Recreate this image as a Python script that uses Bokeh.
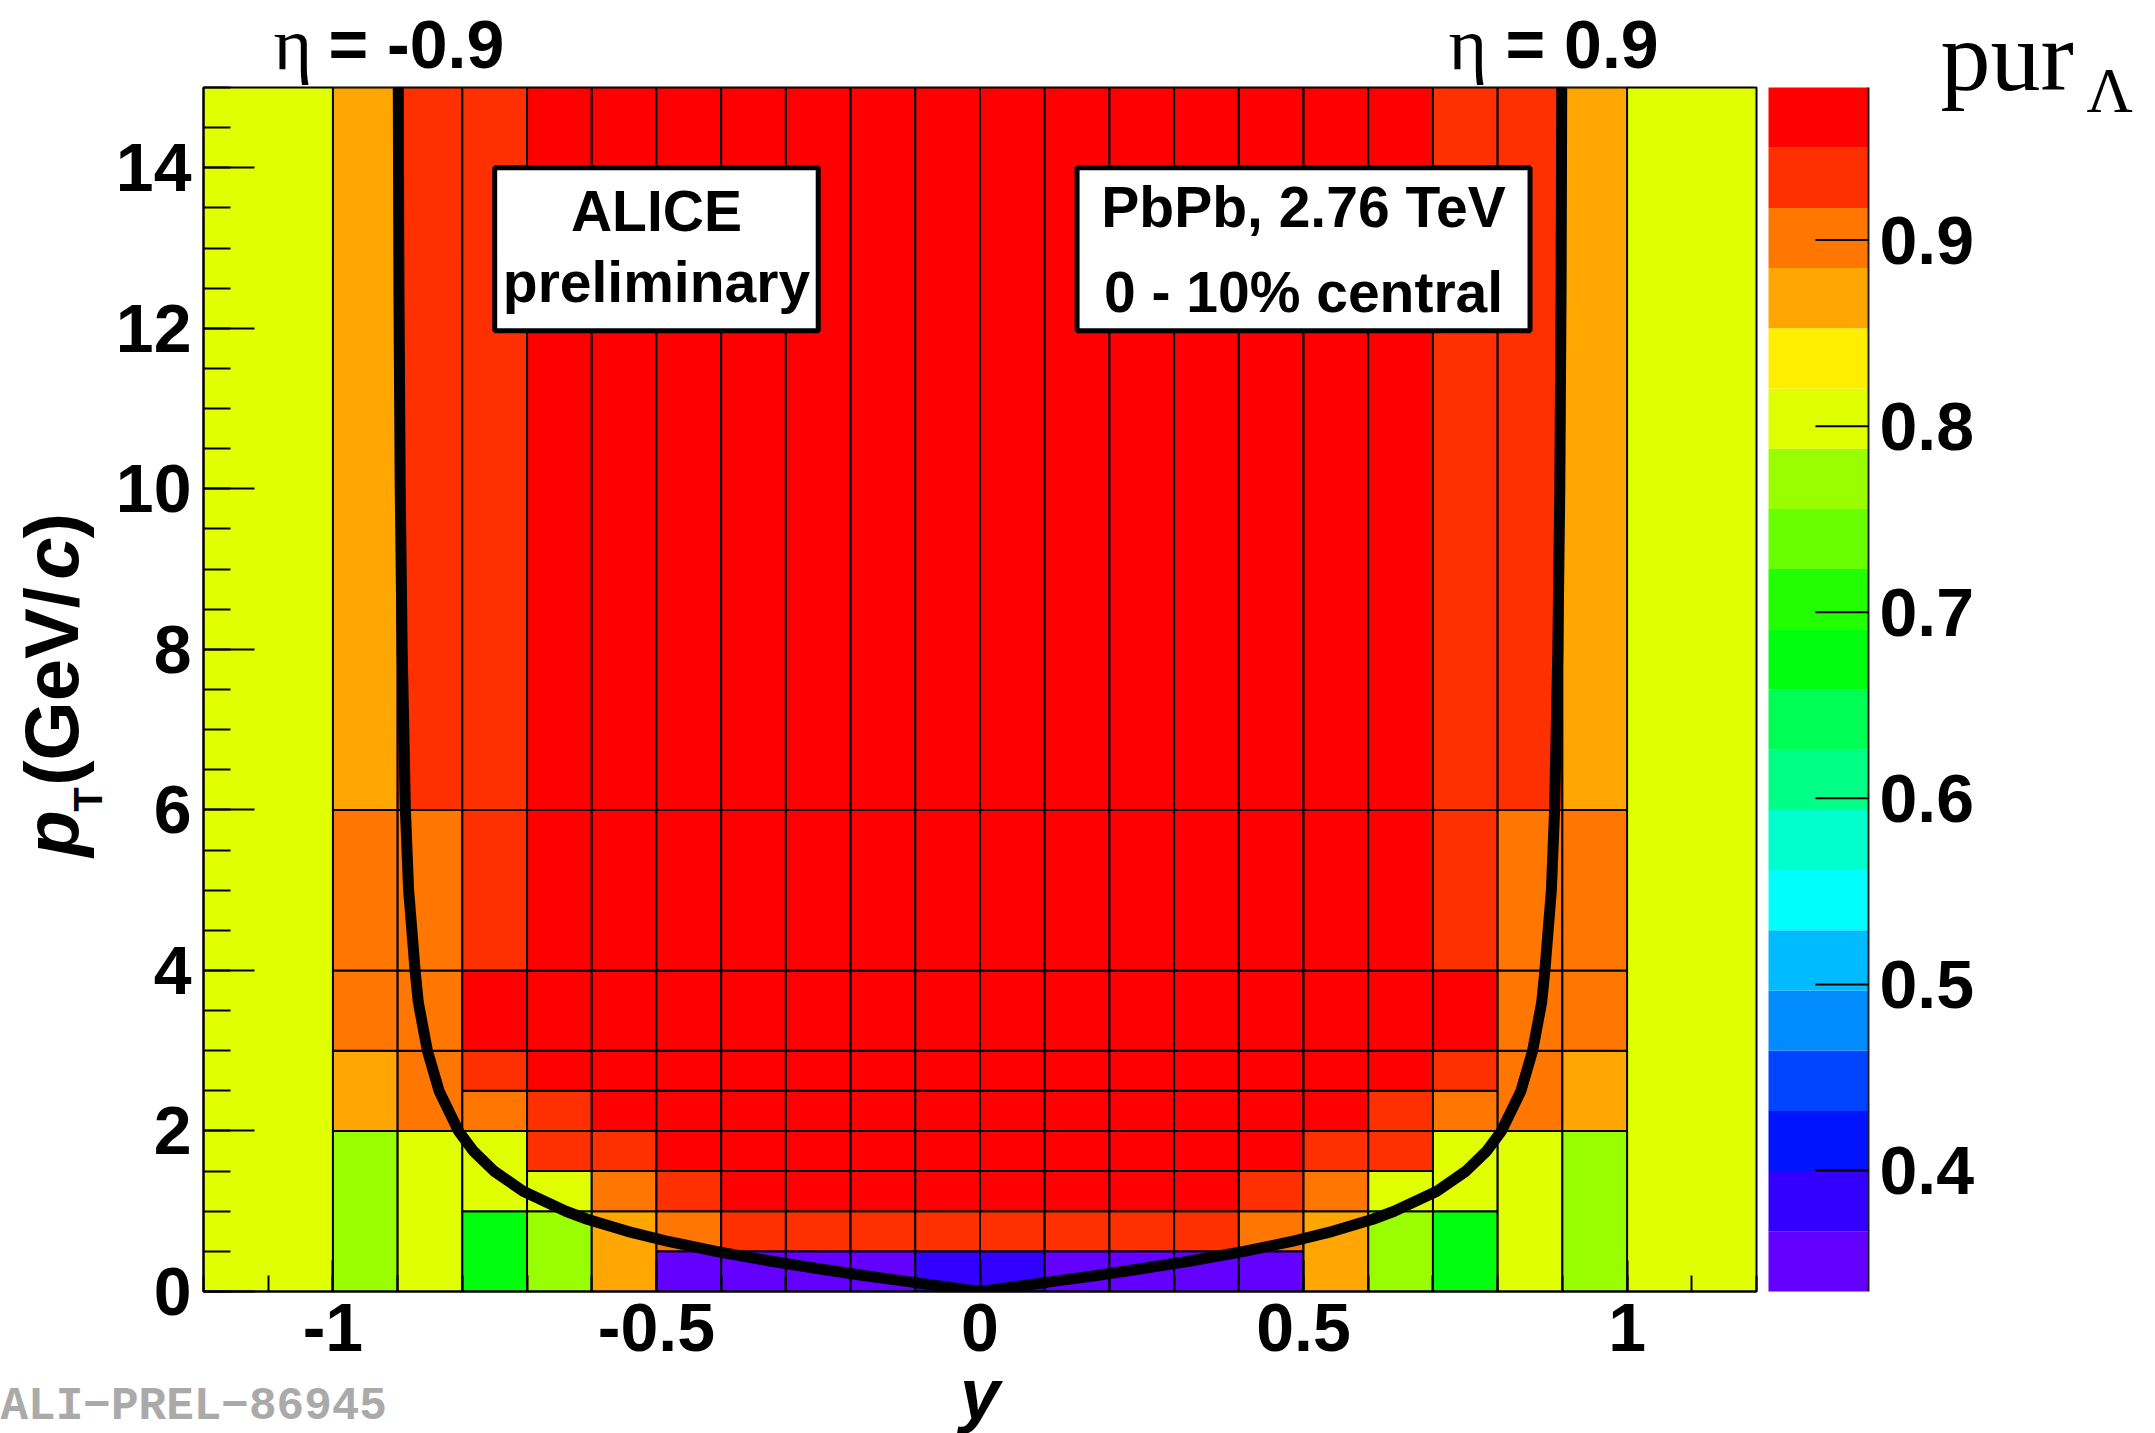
import numpy as np
from bokeh.plotting import figure
from bokeh.layouts import row, column
from bokeh.models import (ColumnDataSource, Range1d, FixedTicker, LinearColorMapper,
                          Label, BoxAnnotation)
from bokeh.embed import file_html
from bokeh.resources import INLINE

# ---------------- data ----------------
# rapidity bin edges of the histogram (|y| < 1)
Y_EDGES = [-1.0, -0.9, -0.8, -0.7, -0.6, -0.5, -0.4, -0.3, -0.2, -0.1, 0.0,
           0.1, 0.2, 0.3, 0.4, 0.5, 0.6, 0.7, 0.8, 0.9, 1.0]

# pT bin edges used in the different rapidity columns
PT_OUTER = [0, 2, 3, 4, 6, 15]                      # 0.8 < |y| < 1.0
PT_EDGE = [0, 1, 2, 2.5, 3, 4, 6, 15]               # 0.7 < |y| < 0.8
PT_MID = [0, 1, 1.5, 2, 2.5, 3, 4, 6, 15]           # 0.5 < |y| < 0.7
PT_CORE = [0, 0.5, 1, 1.5, 2, 2.5, 3, 4, 6, 15]     # |y| < 0.5

COLUMN_PT_EDGES = [PT_OUTER, PT_OUTER, PT_EDGE, PT_MID, PT_MID,
                   PT_CORE, PT_CORE, PT_CORE, PT_CORE, PT_CORE,
                   PT_CORE, PT_CORE, PT_CORE, PT_CORE, PT_CORE,
                   PT_MID, PT_MID, PT_EDGE, PT_OUTER, PT_OUTER]

# purity per column, from low pT to high pT
PURITY = [
    [0.77, 0.87, 0.90, 0.90, 0.87],                          # -1.0 .. -0.9
    [0.80, 0.90, 0.90, 0.90, 0.93],                          # -0.9 .. -0.8
    [0.67, 0.80, 0.90, 0.93, 0.97, 0.93, 0.93],              # -0.8 .. -0.7
    [0.77, 0.80, 0.93, 0.93, 0.97, 0.97, 0.97, 0.97],        # -0.7 .. -0.6
    [0.87, 0.90, 0.93, 0.97, 0.97, 0.97, 0.97, 0.97],        # -0.6 .. -0.5
    [0.35, 0.90, 0.93, 0.97, 0.97, 0.97, 0.97, 0.97, 0.97],  # -0.5 .. -0.4
    [0.35, 0.93, 0.97, 0.97, 0.97, 0.97, 0.97, 0.97, 0.97],  # -0.4 .. -0.3
    [0.35, 0.93, 0.97, 0.97, 0.97, 0.97, 0.97, 0.97, 0.97],  # -0.3 .. -0.2
    [0.35, 0.93, 0.97, 0.97, 0.97, 0.97, 0.97, 0.97, 0.97],  # -0.2 .. -0.1
    [0.38, 0.93, 0.97, 0.97, 0.97, 0.97, 0.97, 0.97, 0.97],  # -0.1 .. 0.0
    [0.38, 0.93, 0.97, 0.97, 0.97, 0.97, 0.97, 0.97, 0.97],  #  0.0 .. 0.1
    [0.35, 0.93, 0.97, 0.97, 0.97, 0.97, 0.97, 0.97, 0.97],  #  0.1 .. 0.2
    [0.35, 0.93, 0.97, 0.97, 0.97, 0.97, 0.97, 0.97, 0.97],  #  0.2 .. 0.3
    [0.35, 0.93, 0.97, 0.97, 0.97, 0.97, 0.97, 0.97, 0.97],  #  0.3 .. 0.4
    [0.35, 0.90, 0.93, 0.97, 0.97, 0.97, 0.97, 0.97, 0.97],  #  0.4 .. 0.5
    [0.87, 0.90, 0.93, 0.97, 0.97, 0.97, 0.97, 0.97],        #  0.5 .. 0.6
    [0.77, 0.80, 0.93, 0.93, 0.97, 0.97, 0.97, 0.97],        #  0.6 .. 0.7
    [0.67, 0.80, 0.90, 0.93, 0.97, 0.93, 0.93],              #  0.7 .. 0.8
    [0.80, 0.90, 0.90, 0.90, 0.93],                          #  0.8 .. 0.9
    [0.77, 0.87, 0.90, 0.90, 0.87],                          #  0.9 .. 1.0
]

# eta = +-0.9 acceptance boundary
ETA_PT = [0.0, 0.06, 0.12, 0.2, 0.28, 0.38, 0.5, 0.62, 0.75, 0.9, 1.0, 1.25,
          1.5, 1.75, 2.0, 2.5, 3.0, 3.6, 4.0, 5.0, 6.0, 8.0, 10.0, 12.5, 15.0]
ETA_POS_Y = [0.0, 0.055, 0.108, 0.18, 0.247, 0.325, 0.408, 0.48, 0.545, 0.607,
             0.64, 0.706, 0.751, 0.783, 0.806, 0.836, 0.854, 0.868, 0.873,
             0.883, 0.888, 0.893, 0.896, 0.898, 0.899]
ETA_NEG_Y = [0.0, -0.055, -0.108, -0.18, -0.247, -0.325, -0.408, -0.48, -0.545,
             -0.607, -0.64, -0.706, -0.751, -0.783, -0.806, -0.836, -0.854,
             -0.868, -0.873, -0.883, -0.888, -0.893, -0.896, -0.898, -0.899]

PUR_LOW, PUR_HIGH = 0.335, 0.982
PALETTE = ["#6300ff", "#3300ff", "#0014ff", "#0044ff", "#008bff", "#00bbff",
           "#00fffc", "#00ffcc", "#00ff85", "#00ff55", "#00ff0e", "#22ff00",
           "#69ff00", "#99ff00", "#e0ff00", "#ffee00", "#ffa700", "#ff7700",
           "#ff3000", "#ff0000"]
CBAR_TICKS = [0.4, 0.5, 0.6, 0.7, 0.8, 0.9]
CBAR_TICK_LABELS = ["0.4", "0.5", "0.6", "0.7", "0.8", "0.9"]
Y_TICKS = [-1.0, -0.5, 0.0, 0.5, 1.0]
Y_TICK_LABELS = ["-1", "-0.5", "0", "0.5", "1"]
PT_TICKS = [0, 2, 4, 6, 8, 10, 12, 14]

# ---------------- page geometry (pixels) ----------------
W_PAGE, H_PAGE = 2155, 1433
W_LEFTPART = 1762                    # main area incl. strips; colour bar to its right
W_L, H_TOP, Y_BOT = 110, 85, 1380    # left strip width, top strip height, bottom strip top
FL, FR, FT, FB = 203, 1756, 87, 1291  # heat-map frame
CL, CR = 1768, 1868                  # colour bar


def mx(px):
    return -1.2 + (px - FL) / (FR - FL) * 2.4


def my(py):
    return 15.0 - (py - FT) / (FB - FT) * 15.0


def cx(px):
    return (px - CL) / (CR - CL)


def cy(py):
    return PUR_HIGH - (py - FT) / (FB - FT) * (PUR_HIGH - PUR_LOW)


SANS = "Liberation Sans"
SERIF = "Liberation Serif"


def lab(fig, x, y, text, font=SANS, size=68, style="bold", align="left",
        angle=0.0, color="black"):
    fig.add_layout(Label(x=x, y=y, text=text, text_font=font,
                         text_font_size=f"{size}px", text_font_style=style,
                         text_align=align, text_baseline="middle", angle=angle,
                         text_color=color))


def strip(w, h, xr, yr):
    f = figure(width=w, height=h, x_range=Range1d(*xr), y_range=Range1d(*yr),
               x_axis_location=None, y_axis_location=None, output_backend="svg",
               toolbar_location=None, min_border_left=0, min_border_right=0,
               min_border_top=0, min_border_bottom=0)
    f.outline_line_color = None
    f.grid.visible = False
    f.background_fill_color = "white"
    f.border_fill_color = "white"
    return f


# ---------------- heat map ----------------
xl, xr, pb, ptop, pur = [], [], [], [], []
for i, vals in enumerate(PURITY):
    edges = COLUMN_PT_EDGES[i]
    for j, v in enumerate(vals):
        xl.append(Y_EDGES[i]); xr.append(Y_EDGES[i + 1])
        pb.append(edges[j]); ptop.append(edges[j + 1]); pur.append(v)
cells = ColumnDataSource(dict(xl=xl, xr=xr, pb=pb, pt=ptop, pur=pur))

mapper = LinearColorMapper(palette=PALETTE, low=PUR_LOW, high=PUR_HIGH)

p = figure(width=W_LEFTPART - W_L, height=Y_BOT - H_TOP,
           x_range=Range1d(-1.2, 1.2), y_range=Range1d(0, 15),
           output_backend="svg", toolbar_location=None,
           min_border_left=FL - W_L, min_border_right=W_LEFTPART - FR,
           min_border_top=FT - H_TOP, min_border_bottom=Y_BOT - FB,
           background_fill_color=PALETTE[14], border_fill_color="white")
p.grid.visible = False
p.outline_line_color = "black"
p.outline_line_width = 2

p.quad(left="xl", right="xr", bottom="pb", top="pt", source=cells,
       fill_color={"field": "pur", "transform": mapper},
       line_color="black", line_width=2)

curve_y = list(reversed(ETA_NEG_Y)) + ETA_POS_Y[1:]
curve_pt = list(reversed(ETA_PT)) + ETA_PT[1:]
p.line(curve_y, curve_pt, line_color="black", line_width=11,
       line_join="round", line_cap="round")

xa = p.xaxis[0]
xa.ticker = FixedTicker(ticks=Y_TICKS,
                        minor_ticks=[round(-1.2 + 0.1 * k, 1) for k in range(25)])
xa.major_label_overrides = {t: s for t, s in zip(Y_TICKS, Y_TICK_LABELS)}
xa.major_tick_in, xa.major_tick_out = 31, 0
xa.minor_tick_in, xa.minor_tick_out = 16, 0
xa.major_label_standoff = 12

ya = p.yaxis[0]
ya.ticker = FixedTicker(ticks=PT_TICKS, minor_ticks=[0.5 * k for k in range(31)])
ya.major_tick_in, ya.major_tick_out = 51, 0
ya.minor_tick_in, ya.minor_tick_out = 27, 0
ya.major_label_standoff = 12

for ax in (xa, ya):
    ax.axis_line_width = 2
    ax.axis_line_color = "black"
    ax.major_tick_line_width = 2
    ax.minor_tick_line_width = 2
    ax.major_label_text_font = SANS
    ax.major_label_text_font_style = "bold"
    ax.major_label_text_font_size = "68px"
    ax.major_label_text_color = "black"

BOX_ALICE = dict(left=-0.75, right=-0.25, bottom=11.97, top=14.0)
BOX_SYS = dict(left=0.15, right=0.85, bottom=11.97, top=14.0)
for b in (BOX_ALICE, BOX_SYS):
    p.add_layout(BoxAnnotation(**b, fill_color="white", fill_alpha=1.0,
                               line_color="black", line_width=5, line_alpha=1.0))

lab(p, -0.5, my(231 - 21), "ALICE", size=57, align="center")
lab(p, -0.5, my(302 - 21), "preliminary", size=57, align="center")
lab(p, 0.5, my(227 - 21), "PbPb, 2.76 TeV", size=57, align="center")
lab(p, 0.5, my(312 - 21), "0 - 10% central", size=57, align="center")

# ---------------- top strip: eta labels ----------------
top = strip(W_LEFTPART, H_TOP, (mx(0), mx(W_LEFTPART)), (my(H_TOP), my(0)))
lab(top, mx(273), my(43), "η", font=SERIF, size=74, style="normal")
lab(top, mx(328), my(43), "= -0.9")
lab(top, mx(1448), my(43), "η", font=SERIF, size=74, style="normal")
lab(top, mx(1505), my(43), "= 0.9")

# ---------------- left strip: pT axis title (rotated pieces, centred) ----------------
# inside a row its frame is aligned with the heat-map frame, so it shares the pT range
left = strip(W_L, Y_BOT - H_TOP, (mx(0), mx(W_L)), (0, 15))
A = np.pi / 2
XM = 78 - 0.35 * 76
lab(left, mx(XM), my(833), "p", size=76, style="bold italic", angle=A, align="center")
lab(left, mx(101 - 0.35 * 40), my(799), "T", size=40, style="bold", angle=A,
    align="center")
lab(left, mx(XM), my(686), "(GeV/", size=76, style="bold", angle=A, align="center")
lab(left, mx(XM), my(558), "c", size=76, style="bold italic", angle=A, align="center")
lab(left, mx(XM), my(525), ")", size=76, style="bold", angle=A, align="center")

# ---------------- bottom strip: y title and preliminary number ----------------
bottom = strip(W_LEFTPART, H_PAGE - Y_BOT, (mx(0), mx(W_LEFTPART)),
               (my(H_PAGE), my(Y_BOT)))
lab(bottom, 0.0, my(1393), "y", size=72, style="bold italic", align="center")
lab(bottom, mx(0), my(1406), "ALI\u2212PREL\u221286945", font="Liberation Mono",
    size=46, style="bold", color="#aaaaaa")

# ---------------- colour bar ----------------
band_edges = np.linspace(PUR_LOW, PUR_HIGH, len(PALETTE) + 1)
bands = ColumnDataSource(dict(bottom=band_edges[:-1], top=band_edges[1:],
                              mid=0.5 * (band_edges[:-1] + band_edges[1:])))

c = strip(W_PAGE - W_LEFTPART, H_PAGE, (cx(W_LEFTPART), cx(W_PAGE)), (cy(H_PAGE), cy(0)))
c.quad(left=0, right=1, bottom="bottom", top="top", source=bands,
       fill_color={"field": "mid", "transform": mapper}, line_color=None)
c.segment(x0=[1], y0=[PUR_LOW], x1=[1], y1=[PUR_HIGH], line_color="#222222",
          line_width=2)
c.segment(x0=[1 - 0.53] * len(CBAR_TICKS), y0=CBAR_TICKS,
          x1=[1] * len(CBAR_TICKS), y1=CBAR_TICKS, line_color="black", line_width=2)
for t, s in zip(CBAR_TICKS, CBAR_TICK_LABELS):
    lab(c, cx(1879), t, s)

lab(c, cx(1940), cy(89 - 33), "pur", font=SERIF, size=100, style="normal")
lab(c, cx(2086), cy(112 - 22), "Λ", font=SERIF, size=64, style="normal")

layout = row(column(top, row(left, p), bottom), c)
with open("out.html", "w") as f:
    f.write(file_html(layout, INLINE, "purity"))
